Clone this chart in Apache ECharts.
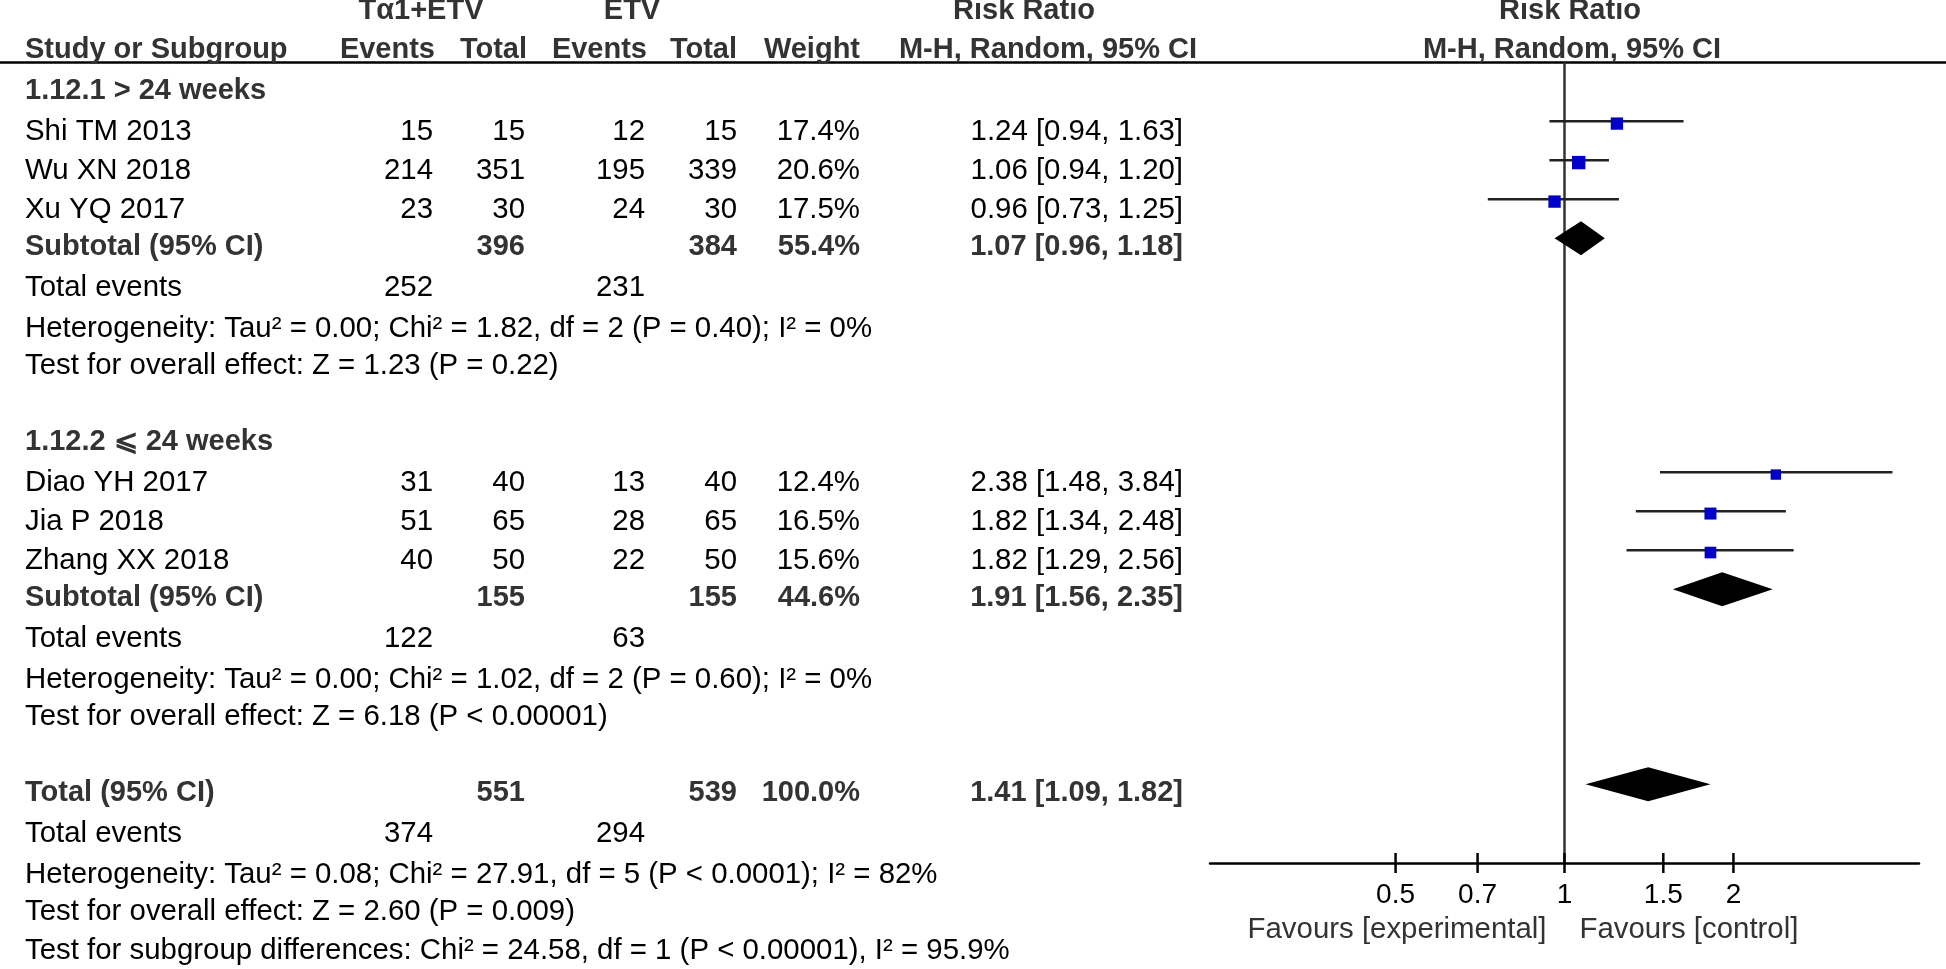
<!DOCTYPE html>
<html><head><meta charset="utf-8">
<script src="https://cdn.jsdelivr.net/npm/echarts@6/dist/echarts.min.js"></script>
<style>html,body{margin:0;padding:0;background:#fff}#c{width:1946px;height:969px}</style>
</head><body><div id="c"></div>
<script>
// ---------------- data ----------------
const groupHeaders = ['Tα1+ETV', 'ETV'];
const subgroupNames = ['1.12.1 > 24 weeks', '1.12.2 ⩽ 24 weeks'];
const studyNames = ['Shi TM 2013', 'Wu XN 2018', 'Xu YQ 2017', 'Diao YH 2017', 'Jia P 2018', 'Zhang XX 2018'];
const studyGroup = [0, 0, 0, 1, 1, 1];
const expEvents = [15, 214, 23, 31, 51, 40];
const expTotal = [15, 351, 30, 40, 65, 50];
const ctlEvents = [12, 195, 24, 13, 28, 22];
const ctlTotal = [15, 339, 30, 40, 65, 50];
const weights = [17.4, 20.6, 17.5, 12.4, 16.5, 15.6];
const rr = [1.24, 1.06, 0.96, 2.38, 1.82, 1.82];
const rrLow = [0.94, 0.94, 0.73, 1.48, 1.34, 1.29];
const rrHigh = [1.63, 1.20, 1.25, 3.84, 2.48, 2.56];

const subExpTotal = [396, 155];
const subCtlTotal = [384, 155];
const subWeight = [55.4, 44.6];
const subRR = [1.07, 1.91];
const subLow = [0.96, 1.56];
const subHigh = [1.18, 2.35];
const subExpEvents = [252, 122];
const subCtlEvents = [231, 63];
const subHet = ['Heterogeneity: Tau² = 0.00; Chi² = 1.82, df = 2 (P = 0.40); I² = 0%',
                'Heterogeneity: Tau² = 0.00; Chi² = 1.02, df = 2 (P = 0.60); I² = 0%'];
const subTest = ['Test for overall effect: Z = 1.23 (P = 0.22)',
                 'Test for overall effect: Z = 6.18 (P < 0.00001)'];

const totExpTotal = 551, totCtlTotal = 539, totWeight = 100.0;
const totRR = 1.41, totLow = 1.09, totHigh = 1.82;
const totExpEvents = 374, totCtlEvents = 294;
const totHet = 'Heterogeneity: Tau² = 0.08; Chi² = 27.91, df = 5 (P < 0.0001); I² = 82%';
const totTest = 'Test for overall effect: Z = 2.60 (P = 0.009)';
const subDiff = 'Test for subgroup differences: Chi² = 24.58, df = 1 (P < 0.00001), I² = 95.9%';

const tickValues = [0.5, 0.7, 1, 1.5, 2];
const tickLabels = ['0.5', '0.7', '1', '1.5', '2'];
const favourLabels = ['Favours [experimental]', 'Favours [control]'];

// ---------------- layout / style ----------------
const FS_BOLD = 29;
const FS_NORM = 29.4;
const FONT = '"Liberation Sans", Arial, Helvetica, sans-serif';
const BOLD_C = '#333';
const AXIS_ROW = 22.02;
const HEADER_LINE_ROW = 1.49;
const COL = {name: 25, ev1: 433, tot1: 525, ev2: 645, tot2: 737, wt: 860, rr: 1183};

const fmt2 = v => v.toFixed(2);
const ciText = (m, l, h) => `${fmt2(m)} [${fmt2(l)}, ${fmt2(h)}]`;

const textItems = [];
function T(row, x, text, align, kind) {
  textItems.push({row, x, text: String(text), align, kind});
}
// headers
T(0, 421, groupHeaders[0], 'center', 'head');
T(0, 632, groupHeaders[1], 'center', 'head');
T(0, 1024, 'Risk Ratio', 'center', 'head');
T(0, 1570, 'Risk Ratio', 'center', 'head');
T(1, COL.name, 'Study or Subgroup', 'left', 'head');
T(1, 435, 'Events', 'right', 'head');
T(1, 527, 'Total', 'right', 'head');
T(1, 647, 'Events', 'right', 'head');
T(1, 737, 'Total', 'right', 'head');
T(1, 860, 'Weight', 'right', 'head');
T(1, 1048, 'M-H, Random, 95% CI', 'center', 'head');
T(1, 1572, 'M-H, Random, 95% CI', 'center', 'head');

const studyRows = [];
const diamonds = [];
let row = 2;
for (let g = 0; g < subgroupNames.length; g++) {
  T(row, COL.name, subgroupNames[g], 'left', 'bold'); row++;
  studyNames.forEach((n, i) => {
    if (studyGroup[i] !== g) return;
    studyRows[i] = row;
    T(row, COL.name, n, 'left', 'norm');
    T(row, COL.ev1, expEvents[i], 'right', 'norm');
    T(row, COL.tot1, expTotal[i], 'right', 'norm');
    T(row, COL.ev2, ctlEvents[i], 'right', 'norm');
    T(row, COL.tot2, ctlTotal[i], 'right', 'norm');
    T(row, COL.wt, weights[i].toFixed(1) + '%', 'right', 'norm');
    T(row, COL.rr, ciText(rr[i], rrLow[i], rrHigh[i]), 'right', 'norm');
    row++;
  });
  T(row, COL.name, 'Subtotal (95% CI)', 'left', 'bold');
  T(row, COL.tot1, subExpTotal[g], 'right', 'bold');
  T(row, COL.tot2, subCtlTotal[g], 'right', 'bold');
  T(row, COL.wt, subWeight[g].toFixed(1) + '%', 'right', 'bold');
  T(row, COL.rr, ciText(subRR[g], subLow[g], subHigh[g]), 'right', 'bold');
  diamonds.push([subRR[g], subLow[g], subHigh[g], row]);
  row++;
  T(row, COL.name, 'Total events', 'left', 'norm');
  T(row, COL.ev1, subExpEvents[g], 'right', 'norm');
  T(row, COL.ev2, subCtlEvents[g], 'right', 'norm');
  row++;
  T(row, COL.name, subHet[g], 'left', 'note'); row++;
  T(row, COL.name, subTest[g], 'left', 'norm'); row++;
  row++; // blank
}
T(row, COL.name, 'Total (95% CI)', 'left', 'bold');
T(row, COL.tot1, totExpTotal, 'right', 'bold');
T(row, COL.tot2, totCtlTotal, 'right', 'bold');
T(row, COL.wt, totWeight.toFixed(1) + '%', 'right', 'bold');
T(row, COL.rr, ciText(totRR, totLow, totHigh), 'right', 'bold');
diamonds.push([totRR, totLow, totHigh, row]);
row++;
T(row, COL.name, 'Total events', 'left', 'norm');
T(row, COL.ev1, totExpEvents, 'right', 'norm');
T(row, COL.ev2, totCtlEvents, 'right', 'norm');
row++;
T(row, COL.name, totHet, 'left', 'note'); row++;
T(row, COL.name, totTest, 'left', 'norm'); row++;
T(row, COL.name, subDiff, 'left', 'norm'); row++;

const KIND = {
  head: {dy: 7, bold: true, color: BOLD_C, fs: FS_BOLD},
  bold: {dy: 9, bold: true, color: BOLD_C, fs: FS_BOLD},
  norm: {dy: 11, bold: false, color: '#000', fs: FS_NORM},
  note: {dy: 13, bold: false, color: '#000', fs: FS_NORM}
};

const studyData = studyNames.map((n, i) => [rr[i], rrLow[i], rrHigh[i], studyRows[i], weights[i]]);

const chart = echarts.init(document.getElementById('c'), null, {renderer: 'canvas'});
chart.setOption({
  animation: false,
  backgroundColor: '#fff',
  grid: {left: 1210, right: 27, top: 4.3, bottom: 106, containLabel: false, outerBoundsMode: 'none'},
  xAxis: {
    type: 'log', logBase: 10, min: 0.2335, max: 1 / 0.2335,
    axisLine: {show: true, onZero: false, lineStyle: {color: '#000', width: 2.5}},
    axisTick: {show: false}, axisLabel: {show: false}, splitLine: {show: false}, minorTick: {show: false}
  },
  yAxis: {type: 'value', inverse: true, min: 0, max: AXIS_ROW, show: false, splitLine: {show: false}},
  series: [
    { // table texts
      type: 'custom', silent: true, clip: false, z: 5,
      data: textItems.map(t => [1, t.row]),
      renderItem: (params, api) => {
        const t = textItems[params.dataIndex];
        const k = KIND[t.kind];
        const y = api.coord([1, t.row])[1] + k.dy;
        return {type: 'text', x: t.x, y: y, style: {
          text: t.text, textAlign: t.align, textVerticalAlign: 'middle', fill: k.color,
          font: `${k.bold ? 'bold ' : ''}${k.fs}px ${FONT}`
        }};
      }
    },
    { // header rule + reference line at RR = 1
      type: 'custom', silent: true, clip: false,
      data: [[1, HEADER_LINE_ROW]],
      renderItem: (params, api) => {
        const top = api.coord([1, HEADER_LINE_ROW]);
        const bot = api.coord([1, AXIS_ROW]);
        return {type: 'group', children: [
          {type: 'line', shape: {x1: 0, y1: top[1], x2: 1946, y2: top[1]}, style: {stroke: '#000', lineWidth: 2.5}},
          {type: 'line', shape: {x1: top[0], y1: top[1], x2: bot[0], y2: bot[1]}, style: {stroke: '#333', lineWidth: 2.5}}
        ]};
      }
    },
    { // study CIs and weight squares
      type: 'custom', silent: true, clip: false, z: 3,
      data: studyData,
      renderItem: (params, api) => {
        const m = api.value(0), l = api.value(1), h = api.value(2), r = api.value(3), w = api.value(4);
        const pl = api.coord([l, r]), ph = api.coord([h, r]), pm = api.coord([m, r]);
        const s = 2.95 * Math.sqrt(w);
        return {type: 'group', children: [
          {type: 'line', shape: {x1: pl[0], y1: pl[1], x2: ph[0], y2: ph[1]}, style: {stroke: '#222', lineWidth: 2.4}},
          {type: 'rect', shape: {x: pm[0] - s / 2, y: pm[1] + 2.3 - s / 2, width: s, height: s}, style: {fill: '#0000C8'}}
        ]};
      }
    },
    { // pooled diamonds
      type: 'custom', silent: true, clip: false, z: 3,
      data: diamonds,
      renderItem: (params, api) => {
        const m = api.value(0), l = api.value(1), h = api.value(2), r = api.value(3);
        const pl = api.coord([l, r]), ph = api.coord([h, r]), pm = api.coord([m, r]);
        const hh = 17;
        return {type: 'polygon', shape: {points: [[pl[0], pl[1]], [pm[0], pm[1] - hh], [ph[0], ph[1]], [pm[0], pm[1] + hh]]},
                style: {fill: '#000'}};
      }
    },
    { // axis ticks and labels
      type: 'custom', silent: true, clip: false, z: 4,
      data: tickValues.map(v => [v, AXIS_ROW]),
      renderItem: (params, api) => {
        const p = api.coord([api.value(0), AXIS_ROW]);
        return {type: 'group', children: [
          {type: 'line', shape: {x1: p[0], y1: p[1] - 10, x2: p[0], y2: p[1] + 10}, style: {stroke: '#000', lineWidth: 2.5}},
          {type: 'text', x: p[0], y: p[1] + 32, style: {text: tickLabels[params.dataIndex], textAlign: 'center', textVerticalAlign: 'middle', fill: '#000', font: `28px ${FONT}`}}
        ]};
      }
    },
    { // favours labels
      type: 'custom', silent: true, clip: false, z: 4,
      data: [[1, AXIS_ROW]],
      renderItem: (params, api) => {
        const p = api.coord([1, AXIS_ROW]);
        return {type: 'group', children: [
          {type: 'text', x: p[0] - 18, y: p[1] + 67, style: {text: favourLabels[0], textAlign: 'right', textVerticalAlign: 'middle', fill: '#333', font: `${FS_NORM}px ${FONT}`}},
          {type: 'text', x: p[0] + 15, y: p[1] + 67, style: {text: favourLabels[1], textAlign: 'left', textVerticalAlign: 'middle', fill: '#333', font: `${FS_NORM}px ${FONT}`}}
        ]};
      }
    }
  ]
});
</script></body></html>
